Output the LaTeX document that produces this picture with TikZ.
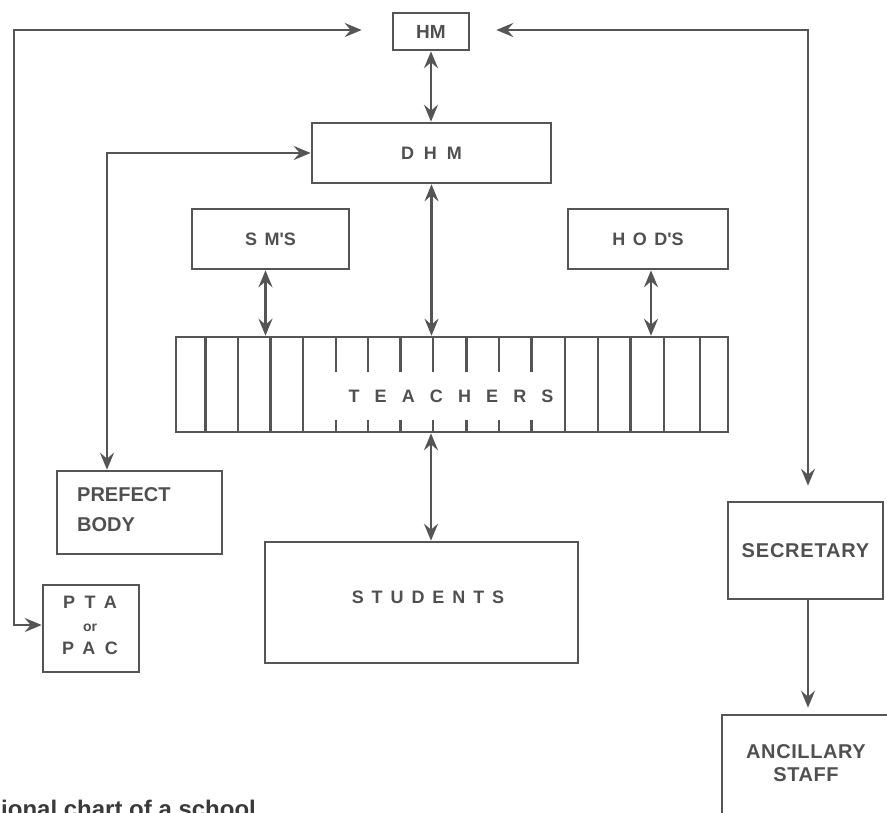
\documentclass[tikz,border=0pt]{standalone}
\usepackage{fontspec}
\setmainfont{Liberation Sans}
\usetikzlibrary{arrows.meta}
\definecolor{ink}{HTML}{555555}
\definecolor{txt}{HTML}{505050}
\definecolor{captxt}{HTML}{3A3A3A}
\newcommand\lblfont{\fontsize{18}{22}\selectfont\bfseries}
\newcommand\lsp[2]{{\addfontfeature{LetterSpace=#1}#2}\hspace{-0.#1em}}
\tikzset{
  box/.style={draw=ink, line width=2.6pt, rectangle, inner sep=0pt, text=txt, font=\lblfont},
  lbl/.style={inner sep=0pt, text=txt, font=\lblfont},
  conn/.style={draw=ink, line width=2.6pt},
  tip/.tip={Stealth[length=17pt, width=14pt, inset=6pt]},
  dbl/.style={conn, {tip}-{tip}},
  sgl/.style={conn, -{tip}},
  rule/.style={draw=ink, line width=2.3pt}
}
\begin{document}
\begin{tikzpicture}[x=1pt, y=-1pt]
\useasboundingbox (0,0) rectangle (887,813);

% boxes
\node[box, minimum width=76pt, minimum height=37pt, font=\fontsize{19}{22}\selectfont\bfseries] (HM) at (431,31.5) {HM};
\node[box, minimum width=239pt, minimum height=60pt] (DHM) at (431.5,153) {\lsp{55}{DHM}};
\node[box, minimum width=157pt, minimum height=60pt] (SMS) at (270.5,239) {\lsp{15}{S M\textquotesingle S}};
\node[box, minimum width=160pt, minimum height=60pt] (HOD) at (648,239) {\lsp{42}{HOD\textquotesingle S}};
\node[box, minimum width=552pt, minimum height=95pt] (TEA) at (452,384.5) {};
\node[box, minimum width=313pt, minimum height=121pt] (STU) at (421.5,602.5) {};
\node[box, minimum width=165pt, minimum height=83pt] (PRE) at (139.5,512.5) {};
\node[box, minimum width=96pt, minimum height=87pt] (PTA) at (91,628.5) {};
\node[box, minimum width=155pt, minimum height=97pt, font=\fontsize{20}{22}\selectfont\bfseries] (SEC) at (805.5,550.5) {\lsp{04}{SECRETARY}};
\node[box, minimum width=173pt, minimum height=115pt] (ANC) at (808.5,772.5) {};

% teacher columns
\foreach \x in {205.5,238,270.5,303,565,598,630.5,664,700}
  \draw[rule] (\x,337) -- (\x,432);
\foreach \x in {336,368,400.5,433,466.5,499,531.5}{
  \draw[rule] (\x,337) -- (\x,372);
  \draw[rule] (\x,420) -- (\x,432);
}

% texts
\node[lbl] (teat) at (451,396) {\lsp{84}{TEACHERS}};
\node[lbl] (stut) at (428,597) {\lsp{44}{STUDENTS}};
\node[lbl, anchor=west, align=left, font=\fontsize{20}{30}\selectfont\bfseries] (pret) at (77,510) {PREFECT\\BODY};
\node[lbl, align=center, font=\fontsize{18}{23}\selectfont\bfseries] (ptat) at (90,625) {\lsp{53}{PTA}\\{\fontsize{14}{23}\selectfont or}\\\lsp{53}{PAC}};
\node[lbl, align=center, font=\fontsize{20}{23}\selectfont\bfseries] (anct) at (806,763.5) {\lsp{03}{ANCILLARY}\\\lsp{03}{STAFF}};
\node[inner sep=0pt, anchor=base west, text=captxt, font=\fontsize{24}{28}\selectfont\bfseries] (cap) at (1,817) {ional chart of a school};

% connector corners
\coordinate (tl) at (14,30);
\coordinate (bl) at (14,625);
\coordinate (tr) at (808,30);

% connectors
\draw[dbl] (HM.south) -- (HM.south |- DHM.north);
\draw[dbl] (DHM.south) -- (DHM.south |- TEA.north);
\draw[dbl] ([xshift=-5pt]SMS.south) -- ([xshift=-5pt]SMS.south |- TEA.north);
\draw[dbl] ([xshift=3pt]HOD.south) -- ([xshift=3pt]HOD.south |- TEA.north);
\draw[dbl] (TEA.south -| HM.south) -- (STU.north -| HM.south);
\draw[dbl] (DHM.west) -| ([xshift=-32.5pt]PRE.north);
\draw[dbl, shorten >=30pt] (PTA.west |- bl) -- (bl) -- (tl) -- (tl -| HM.west);
\draw[dbl, shorten <=26pt, shorten >=15pt] (HM.east |- tr) -- (tr) -- (tr |- SEC.north);
\draw[sgl, shorten >=6pt] (tr |- SEC.south) -- (tr |- ANC.north);
\end{tikzpicture}
\end{document}
